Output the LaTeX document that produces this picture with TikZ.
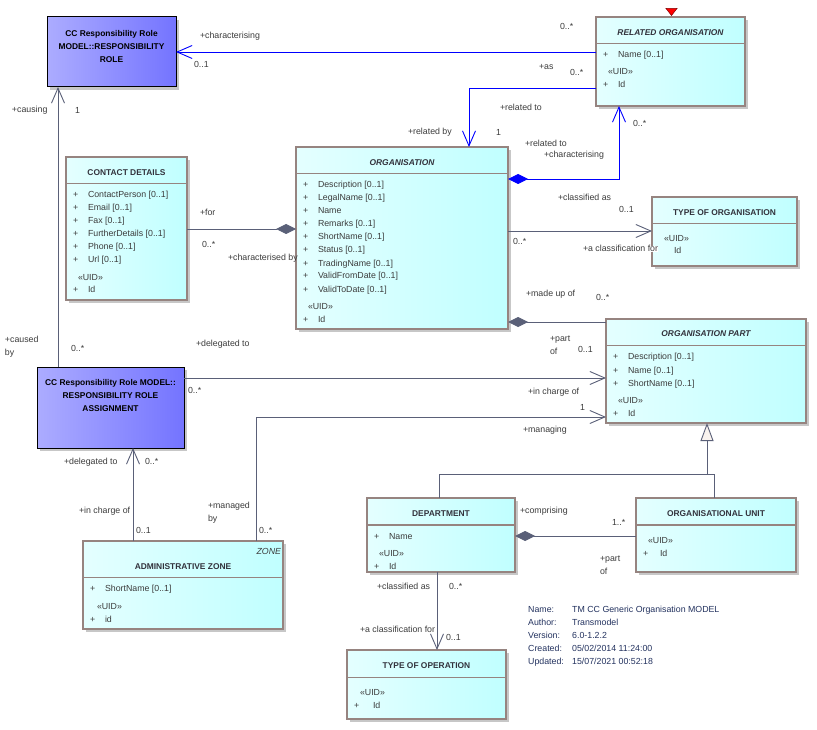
\documentclass[tikz,border=0pt]{standalone}
\usepackage{fontspec}
\setmainfont{Liberation Sans}
\usetikzlibrary{arrows.meta,shadows}
\definecolor{lnc}{RGB}{90,96,120}
\definecolor{bdc}{RGB}{150,132,128}
\definecolor{cyl}{RGB}{228,255,255}
\definecolor{cyr}{RGB}{192,255,255}
\definecolor{pul}{RGB}{172,172,255}
\definecolor{pur}{RGB}{116,116,255}
\definecolor{txc}{RGB}{60,60,60}
\definecolor{ttc}{RGB}{50,50,60}
\definecolor{infc}{RGB}{35,50,95}
\definecolor{blu}{RGB}{0,0,255}
\definecolor{trif}{RGB}{248,242,238}
\tikzset{
 umlbox/.style={draw=bdc, line width=1.4pt, left color=cyl, right color=cyr, inner sep=0pt, outer sep=0pt, anchor=north west,
   drop shadow={shadow xshift=3pt, shadow yshift=-3pt, fill=black!22, opacity=1}},
 rolebox/.style={draw=black, line width=1pt, left color=pul, right color=pur, inner sep=0pt, outer sep=0pt, anchor=north west,
   drop shadow={shadow xshift=3pt, shadow yshift=-3pt, fill=black!22, opacity=1}},
 divl/.style={draw=bdc, line width=1.4pt},
 lbl/.style={anchor=base west, inner sep=0pt, outer sep=0pt, text=txc, font=\fontsize{8.8}{13}\selectfont},
 ttl/.style={anchor=center, inner sep=0pt, text=ttc, font=\fontsize{8.4}{13}\selectfont\bfseries},
 ittl/.style={anchor=center, inner sep=0pt, text=ttc, font=\fontsize{8.4}{13}\selectfont\bfseries\itshape},
 inf/.style={anchor=base west, inner sep=0pt, text=infc, font=\fontsize{8.8}{13}\selectfont},
 con/.style={draw=lnc, line width=0.9pt},
 bcon/.style={draw=blu, line width=0.9pt},
 barb/.tip={Straight Barb[length=15pt,width=13pt]},
 dia/.tip={Diamond[length=20pt,width=10pt]},
 gtri/.tip={Triangle[length=18pt,width=13pt,fill=trif]},
}
\newcommand{\tx}[3]{\node[lbl] (#1) at (#2) {#3};}
\begin{document}
\begin{tikzpicture}[x=1pt,y=-1pt]
\useasboundingbox (0,0) rectangle (817,730);
\fill[white] (0,0) rectangle (817,730);

% ---------- boxes ----------
\node[rolebox, minimum width=129pt, minimum height=70pt] (resp) at (47,17) {};
\node[umlbox, minimum width=149pt, minimum height=89pt] (relorg) at (596,17) {};
\node[umlbox, minimum width=121pt, minimum height=143pt] (contact) at (66,157) {};
\node[umlbox, minimum width=212pt, minimum height=182pt] (org) at (296,147) {};
\node[umlbox, minimum width=145pt, minimum height=69pt] (typeorg) at (652,197) {};
\node[umlbox, minimum width=200pt, minimum height=104pt] (orgpart) at (606,319) {};
\node[rolebox, minimum width=147pt, minimum height=81pt] (rra) at (37,367) {};
\node[umlbox, minimum width=200pt, minimum height=88pt] (admz) at (83,541) {};
\node[umlbox, minimum width=148pt, minimum height=74pt] (dept) at (367,498) {};
\node[umlbox, minimum width=160pt, minimum height=74pt] (orgunit) at (636,498) {};
\node[umlbox, minimum width=159pt, minimum height=69pt] (typeop) at (347,650) {};

% dividers
\draw[divl] (relorg.west |- 0,43.3) -- (relorg.east |- 0,43.3);
\draw[divl] (contact.west |- 0,183.3) -- (contact.east |- 0,183.3);
\draw[divl] (org.west |- 0,173.3) -- (org.east |- 0,173.3);
\draw[divl] (typeorg.west |- 0,223.3) -- (typeorg.east |- 0,223.3);
\draw[divl] (orgpart.west |- 0,345.7) -- (orgpart.east |- 0,345.7);
\draw[divl] (admz.west |- 0,577.7) -- (admz.east |- 0,577.7);
\draw[divl] (dept.west |- 0,525) -- (dept.east |- 0,525);
\draw[divl] (orgunit.west |- 0,525) -- (orgunit.east |- 0,525);
\draw[divl] (typeop.west |- 0,677.3) -- (typeop.east |- 0,677.3);

% red marker
\filldraw[fill=red, draw=red!50!black, line width=0.5pt] (666,8.5) -- (677,8.5) -- (671.5,15.5) -- cycle;

% ---------- titles ----------
\node[ttl, text=black, align=center] (respt) at (111.5,46) {CC Responsibility Role\\MODEL::RESPONSIBILITY\\ROLE};
\node[ttl, text=black, align=center] (rrat) at (110.5,395.7) {CC Responsibility Role MODEL::\\RESPONSIBILITY ROLE\\ASSIGNMENT};
\node[ittl] (relorgt) at (670.5,33) {RELATED ORGANISATION};
\node[ttl] (contactt) at (126.5,173) {CONTACT DETAILS};
\node[ittl] (orgt) at (402,163) {ORGANISATION};
\node[ttl] (typeorgt) at (724.5,213) {TYPE OF ORGANISATION};
\node[ittl] (orgpartt) at (706,334) {ORGANISATION PART};
\node[ttl] (admzt) at (183,567) {ADMINISTRATIVE ZONE};
\node[lbl, anchor=base east, font=\fontsize{8.8}{13}\selectfont\itshape] (admzs) at (281,554) {ZONE};
\node[ttl] (deptt) at (441,514) {DEPARTMENT};
\node[ttl] (orgunitt) at (716,514) {ORGANISATIONAL UNIT};
\node[ttl] (typeopt) at (426.5,666) {TYPE OF OPERATION};

% ---------- attributes ----------
\tx{ro1}{603,58}{+}\tx{ro2}{618,58}{Name [0..1]}
\tx{ro3}{608,75}{«UID»}
\tx{ro4}{603,88}{+}\tx{ro5}{618,88}{Id}

\tx{cd1}{73,197.3}{+}\tx{cd2}{88,197.3}{ContactPerson [0..1]}
\tx{cd3}{73,210.7}{+}\tx{cd4}{88,210.7}{Email [0..1]}
\tx{cd5}{73,224}{+}\tx{cd6}{88,224}{Fax [0..1]}
\tx{cd7}{73,237}{+}\tx{cd8}{88,237}{FurtherDetails [0..1]}
\tx{cd9}{73,250}{+}\tx{cd10}{88,250}{Phone [0..1]}
\tx{cd11}{73,263}{+}\tx{cd12}{88,263}{Url [0..1]}
\tx{cd13}{78,280}{«UID»}
\tx{cd14}{73,293}{+}\tx{cd15}{88,293}{Id}

\tx{og1}{303,187.3}{+}\tx{og2}{318,187.3}{Description [0..1]}
\tx{og3}{303,200.7}{+}\tx{og4}{318,200.7}{LegalName [0..1]}
\tx{og5}{303,214}{+}\tx{og6}{318,214}{Name}
\tx{og7}{303,227}{+}\tx{og8}{318,227}{Remarks [0..1]}
\tx{og9}{303,240}{+}\tx{og10}{318,240}{ShortName [0..1]}
\tx{og11}{303,253}{+}\tx{og12}{318,253}{Status [0..1]}
\tx{og13}{303,266}{+}\tx{og14}{318,266}{TradingName [0..1]}
\tx{og15}{303,279}{+}\tx{og16}{318,279}{ValidFromDate [0..1]}
\tx{og17}{303,292}{+}\tx{og18}{318,292}{ValidToDate [0..1]}
\tx{og19}{308,309}{«UID»}
\tx{og20}{303,322}{+}\tx{og21}{318,322}{Id}

\tx{to1}{664,242}{«UID»}
\tx{to2}{674,254}{Id}

\tx{op1}{613,359.7}{+}\tx{op2}{628,359.7}{Description [0..1]}
\tx{op3}{613,373}{+}\tx{op4}{628,373}{Name [0..1]}
\tx{op5}{613,386}{+}\tx{op6}{628,386}{ShortName [0..1]}
\tx{op7}{618,403}{«UID»}
\tx{op8}{613,416}{+}\tx{op9}{628,416}{Id}

\tx{az1}{90,591}{+}\tx{az2}{105,591}{ShortName [0..1]}
\tx{az3}{97,609}{«UID»}
\tx{az4}{90,622}{+}\tx{az5}{105,622}{id}

\tx{dp1}{374,539}{+}\tx{dp2}{389,539}{Name}
\tx{dp3}{379,556}{«UID»}
\tx{dp4}{374,569}{+}\tx{dp5}{389,569}{Id}

\tx{ou1}{648,543}{«UID»}
\tx{ou2}{643,556}{+}\tx{ou3}{660,556}{Id}

\tx{tp1}{360,695}{«UID»}
\tx{tp2}{354,708}{+}\tx{tp3}{373,708}{Id}

% ---------- info ----------
\node[inf] (i1) at (528,612) {Name:};   \node[inf] (v1) at (572,612) {TM CC Generic Organisation MODEL};
\node[inf] (i2) at (528,625) {Author:}; \node[inf] (v2) at (572,625) {Transmodel};
\node[inf] (i3) at (528,638) {Version:};\node[inf] (v3) at (572,638) {6.0-1.2.2};
\node[inf] (i4) at (528,651) {Created:};\node[inf] (v4) at (572,651) {05/02/2014 11:24:00};
\node[inf] (i5) at (528,664) {Updated:};\node[inf] (v5) at (572,664) {15/07/2021 00:52:18};

% ---------- connectors ----------
\draw[bcon, -{barb}] (relorg.west |- 0,52) -- (resp.east |- 0,52);
\draw[bcon, -{barb}] (relorg.west |- 0,88) -| (469,0 |- org.north);
\draw[bcon, {dia}-{barb}] (org.east |- 0,179) -| (619,0 |- relorg.south);
\draw[con, -{barb}] (org.east |- 0,231) -- (typeorg.west |- 0,231);
\draw[con, {dia}-] (org.east |- 0,322) -- (orgpart.west |- 0,322);
\draw[con, -{barb}] (rra.east |- 0,378) -- (orgpart.west |- 0,378);
\draw[con, -{barb}] (256,0 |- admz.north) |- (orgpart.west |- 0,417);
\draw[con, -{barb}] (133,0 |- admz.north) -- (133,0 |- rra.south);
\draw[con, -{barb}] (58,0 |- rra.north) -- (58,0 |- resp.south);
\draw[con, {dia}-] (org.west |- 0,229) -- (contact.east |- 0,229);
\coordinate (genj) at (707,474);
\draw[con] (439,0 |- dept.north) -- (439,474) -- (714,474) -- (714,0 |- orgunit.north);
\draw[con, -{gtri}] (genj) -- (707,0 |- orgpart.south);
\draw[con, {dia}-] (dept.east |- 0,536) -- (orgunit.west |- 0,536);
\draw[con, -{barb}] (437,0 |- dept.south) -- (437,0 |- typeop.north);

% ---------- connector labels ----------
\tx{l1}{200,39}{+characterising}
\tx{l2}{194,68}{0..1}
\tx{l3}{560,30}{0..*}
\tx{l4}{539,70}{+as}
\tx{l5}{570,76}{0..*}
\tx{l6}{500,111}{+related to}
\tx{l7}{408,135}{+related by}
\tx{l8}{496,136}{1}
\tx{l9}{525,147}{+related to}
\tx{l10}{544,158}{+characterising}
\tx{l11}{633,127}{0..*}
\tx{l12}{558,201}{+classified as}
\tx{l13}{619,213}{0..1}
\tx{l14}{513,245}{0..*}
\node[lbl, fill=white] (l15) at (583,252) {+a classification for};
\tx{l16}{526,297}{+made up of}
\tx{l17}{596,301}{0..*}
\tx{l18}{550,341}{+part}
\tx{l19}{550,354}{of}
\tx{l20}{578,352}{0..1}
\tx{l21}{196,346}{+delegated to}
\tx{l22}{188,393}{0..*}
\tx{l23}{528,394}{+in charge of}
\tx{l24}{580,410}{1}
\tx{l25}{523,432}{+managing}
\tx{l26}{208,508}{+managed}
\tx{l27}{208,521}{by}
\tx{l28}{259,533}{0..*}
\tx{l29}{64,464}{+delegated to}
\tx{l30}{145,464}{0..*}
\tx{l31}{79,513}{+in charge of}
\tx{l32}{136,533}{0..1}
\tx{l33}{12,113}{+causing}
\tx{l34}{75,114}{1}
\tx{l35}{5,342}{+caused}
\tx{l36}{5,355}{by}
\tx{l37}{71,351}{0..*}
\tx{l38}{200,216}{+for}
\tx{l39}{202,248}{0..*}
\tx{l40}{228,261}{+characterised by}
\tx{l41}{520,513}{+comprising}
\tx{l42}{612,525}{1..*}
\tx{l43}{600,561}{+part}
\tx{l44}{600,574}{of}
\tx{l45}{377,589}{+classified as}
\tx{l46}{449,589}{0..*}
\tx{l47}{360,632}{+a classification for}
\tx{l48}{446,640}{0..1}
\end{tikzpicture}
\end{document}
